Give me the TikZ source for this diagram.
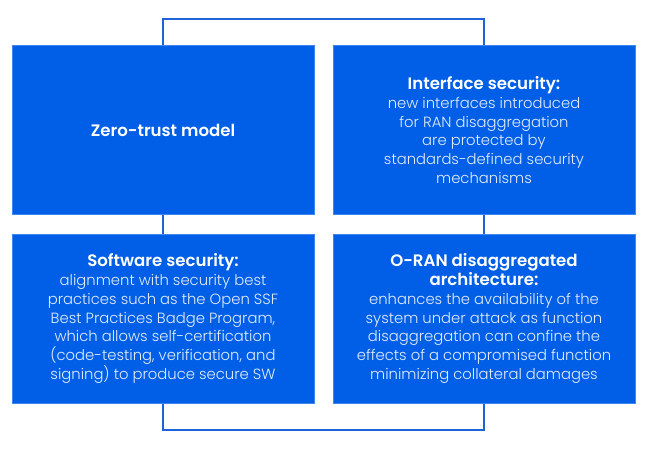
\documentclass[tikz,border=0pt]{standalone}
\usepackage{fontspec}
\setmainfont{Poppins}
\newfontfamily\poplight{Poppins Light}
\newfontfamily\popsemi{Poppins SemiBold}
\definecolor{boxblue}{HTML}{005FE6}
\definecolor{boxedge}{HTML}{3F86F0}
\definecolor{linkblue}{HTML}{1F63DB}
\definecolor{bodytext}{HTML}{E4EDFD}
\tikzset{
  card/.style={rectangle, fill=boxblue, draw=boxedge, line width=0.8pt,
    minimum width=302pt, minimum height=169pt, inner sep=0pt,
    align=center, text=white, font=\fontsize{14.8}{18.7}\selectfont},
  frame/.style={draw=linkblue, line width=1.4pt}
}
\newcommand{\cardtitle}[1]{{\fontsize{16.6}{18.7}\selectfont\popsemi #1}}
\newcommand{\cardbody}[1]{{\poplight\color{bodytext}#1}}
\begin{document}
\begin{tikzpicture}[x=1pt,y=-1pt]
\useasboundingbox (0,0) rectangle (652,448);
\coordinate (c1) at (163,19);
\coordinate (c2) at (484,19);
\coordinate (c3) at (484,430);
\coordinate (c4) at (163,430);
\draw[frame] (c1) -- (c2) -- (c3) -- (c4) -- cycle;
\node[card] (zt) at (163,130) {\cardtitle{Zero-trust model}};
\node[card] (is) at (484,130) {\cardtitle{Interface security:}\\
\cardbody{new interfaces introduced}\\
\cardbody{for RAN disaggregation}\\
\cardbody{are protected by}\\
\cardbody{standards-defined security}\\
\cardbody{mechanisms}};
\node[card] (ss) at (163,318.5) {\cardtitle{Software security:}\\
\cardbody{alignment with security best}\\
\cardbody{practices such as the Open SSF}\\
\cardbody{Best Practices Badge Program,}\\
\cardbody{which allows self-certification}\\
\cardbody{(code-testing, verification, and}\\
\cardbody{signing) to produce secure SW}};
\node[card] (or) at (484,318.5) {\cardtitle{O-RAN disaggregated}\\
\cardtitle{architecture:}\\
\cardbody{enhances the availability of the}\\
\cardbody{system under attack as function}\\
\cardbody{disaggregation can confine the}\\
\cardbody{effects of a compromised function}\\
\cardbody{minimizing collateral damages}};
\end{tikzpicture}
\end{document}
